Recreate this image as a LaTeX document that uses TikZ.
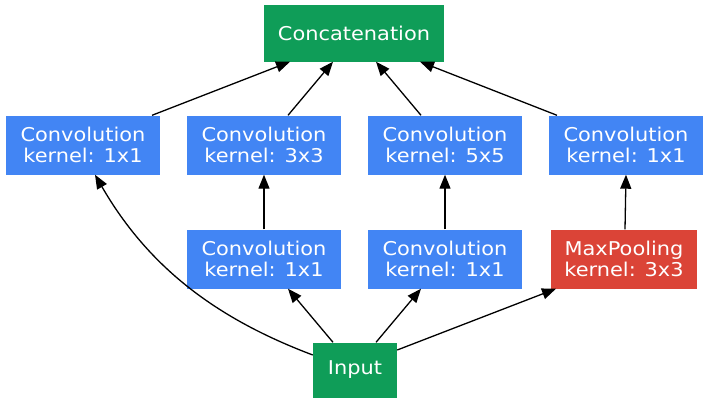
\documentclass[tikz,border=0pt]{standalone}
\usepackage{fontspec}
\setmainfont[FakeStretch=1.1]{DejaVu Sans}
\usetikzlibrary{arrows.meta}
\definecolor{gblue}{HTML}{4285F4}
\definecolor{ggreen}{HTML}{0F9D58}
\definecolor{gred}{HTML}{DB4437}
\begin{document}
\begin{tikzpicture}[x=1pt,y=-1pt,
    layer/.style={fill=gblue, text=white, minimum width=154pt, minimum height=59pt, align=center, font=\fontsize{19}{21}\selectfont, inner sep=0pt},
    pool/.style={layer, fill=gred, minimum width=146pt},
    io/.style={layer, fill=ggreen},
    flow/.style={-{Triangle[length=14pt,width=11pt]}, line width=1.3pt}]
            \useasboundingbox (0,0) rectangle (709,405);
            \node[io, minimum width=180pt, minimum height=57pt] (concat) at (354,33) {Concatenation};
            \node[layer] (convA) at (83,145) {Convolution\\kernel: 1x1};
            \node[layer] (convB) at (264,145) {Convolution\\kernel: 3x3};
            \node[layer] (convC) at (445,145) {Convolution\\kernel: 5x5};
            \node[layer] (convD) at (626,145) {Convolution\\kernel: 1x1};
            \node[layer] (redB) at (264,259) {Convolution\\kernel: 1x1};
            \node[layer] (redC) at (445,259) {Convolution\\kernel: 1x1};
            \node[pool] (maxpool) at (624,259) {MaxPooling\\kernel: 3x3};
            \node[io, minimum width=84pt, minimum height=55pt] (input) at (355,370) {Input};
            \draw[flow] (convA.north -| 152,0) -- (concat.south -| 290,0);
            \draw[flow] (convB.north -| 288,0) -- (concat.south -| 333,0);
            \draw[flow] (convC.north -| 421,0) -- (concat.south -| 376,0);
            \draw[flow] (convD.north -| 557,0) -- (concat.south -| 420,0);
            \draw[flow] (redB) -- (convB);
            \draw[flow] (redC) -- (convC);
            \draw[flow] (maxpool.north -| 625,0) -- (convD.south -| 626,0);
            \draw[flow] (input.north -| 333,0) -- (redB.south -| 288,0);
            \draw[flow] (input.north -| 376,0) -- (redC.south -| 421,0);
            \draw[flow] (input.east |- 0,350) -- (maxpool.south -| 556,0);
            \draw[flow] (input.west |- 0,355) .. controls (220,320) and (150,270) .. (convA.south -| 95,0);
\end{tikzpicture}
\end{document}
